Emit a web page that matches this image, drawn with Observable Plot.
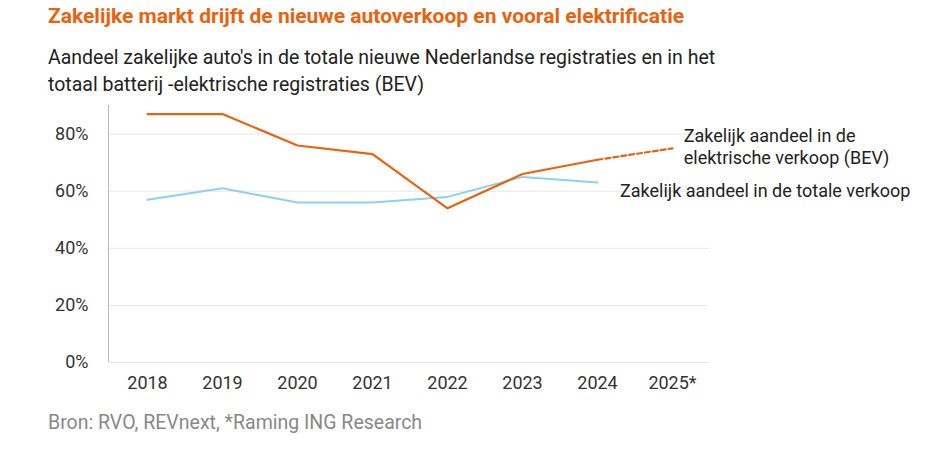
<!DOCTYPE html>
<html><head><meta charset="utf-8">
<script src="https://cdn.jsdelivr.net/npm/d3@7"></script>
<script src="https://cdn.jsdelivr.net/npm/@observablehq/plot@0.6"></script>
<style>
body{margin:0;background:#fff;font-family:Roboto,sans-serif;}
#t{position:absolute;left:48px;top:4px;font-size:21px;font-weight:bold;color:#e8630f;}
#s{position:absolute;left:48px;top:44px;font-size:19.5px;line-height:27px;color:#222;}
#c{position:absolute;left:48px;top:411px;font-size:19.5px;color:#888;}
#p{position:absolute;left:0;top:95px;}
</style></head><body>
<div id="t">Zakelijke markt drijft de nieuwe autoverkoop en vooral elektrificatie</div>
<div id="s">Aandeel zakelijke auto's in de totale nieuwe Nederlandse registraties en in het<br>totaal batterij -elektrische registraties (BEV)</div>
<div id="p"></div>
<div id="c">Bron: RVO, REVnext, *Raming ING Research</div>
<script>
const years=[2018,2019,2020,2021,2022,2023,2024,2025];
const yearLabels=["2018","2019","2020","2021","2022","2023","2024","2025*"];
const bev=[87,87,76,73,54,66,71];
const bevForecast=[71,75];
const total=[57,61,56,56,58,65,63];
const yTicks=[0,20,40,60,80];
const bevD=bev.map((v,i)=>({x:years[i],y:v}));
const bevF=bevForecast.map((v,i)=>({x:years[6+i],y:v}));
const totD=total.map((v,i)=>({x:years[i],y:v}));
const chart=Plot.plot({
 width:935,height:305,marginLeft:108,marginRight:227,marginTop:10,marginBottom:38,
 style:{fontFamily:"Roboto,sans-serif",fontSize:"18px",color:"#333",overflow:"visible"},
 x:{domain:[2017.48,2025.48],ticks:years,tickFormat:(d,i)=>yearLabels[years.indexOf(d)],tickSize:0,tickPadding:14,label:null},
 y:{domain:[0,90],ticks:yTicks,tickFormat:d=>d+"%",tickSize:0,tickPadding:20,label:null},
 marks:[
  Plot.gridY(yTicks,{stroke:"#e6e6e6",strokeOpacity:1}),
  Plot.ruleX([2017.48],{stroke:"#bbb"}),
  Plot.line(totD,{x:"x",y:"y",stroke:"#8fd0ee",strokeWidth:2}),
  Plot.line(bevD,{x:"x",y:"y",stroke:"#e8630f",strokeWidth:2.2}),
  Plot.line(bevF,{x:"x",y:"y",stroke:"#e8630f",strokeWidth:2.2,strokeDasharray:"5,3"}),
  Plot.text(["Zakelijk aandeel in de\nelektrische verkoop (BEV)"],{x:2025.15,y:75.8,textAnchor:"start",fontSize:18,fill:"#222",lineHeight:1.2}),
  Plot.text(["Zakelijk aandeel in de totale verkoop"],{x:2024.3,y:59.9,textAnchor:"start",fontSize:18,fill:"#222"})
 ]});
document.getElementById("p").appendChild(chart);
</script></body></html>
